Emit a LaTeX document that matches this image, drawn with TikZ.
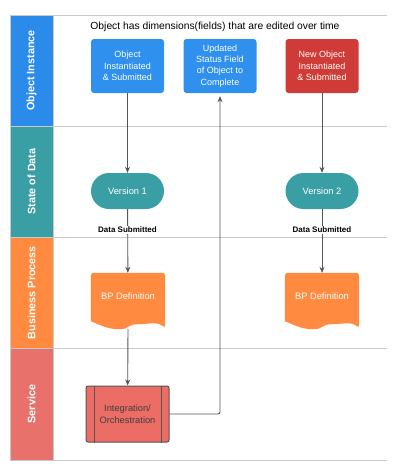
\documentclass[tikz,border=0pt]{standalone}
\usepackage{fontspec}
\setmainfont{Liberation Sans}
\usetikzlibrary{arrows.meta,calc}
\definecolor{laneblue}{HTML}{2B8BEB}
\definecolor{boxblue}{HTML}{2F90EE}
\definecolor{teal1}{HTML}{3A9EA5}
\definecolor{orange1}{HTML}{FF8A40}
\definecolor{redbox}{HTML}{CF3B36}
\definecolor{servlane}{HTML}{E8716B}
\definecolor{intfill}{HTML}{EC6C66}
\definecolor{gridgray}{HTML}{C9C9C9}
\definecolor{arrowgray}{HTML}{555555}
\tikzset{
  lanelabel/.style={rotate=90, text=white, font=\bfseries\fontsize{10.8}{12}\selectfont},
  procbox/.style={minimum width=73pt, minimum height=54pt, rounded corners=3pt, text=white, align=center, font=\fontsize{9}{11.3}\selectfont, inner sep=1pt},
  verbox/.style={fill=teal1, minimum width=73pt, minimum height=36pt, rounded corners=18pt, text=white, font=\fontsize{9.3}{11}\selectfont},
  bpnode/.style={minimum width=74pt, minimum height=56pt, inner sep=0pt},
  conn/.style={draw=arrowgray, line width=0.9pt, -{Stealth[length=6pt,width=5pt]}},
  small/.style={font=\bfseries\fontsize{8}{9}\selectfont, text=black}
}
\begin{document}
\begin{tikzpicture}[x=1pt,y=-1pt]
\useasboundingbox (0,0) rectangle (400,471);
% lane bars
\fill[laneblue] (10,15) rectangle (53,126);
\fill[teal1] (10,126) rectangle (53,237);
\fill[orange1] (10,237) rectangle (53,348);
\fill[servlane] (10,348) rectangle (53,460);
\foreach \y in {15,126,237,348,460} \draw[gridgray, line width=1pt] (10,\y) -- (387,\y);
\draw[gridgray, line width=0.8pt] (10,15) -- (10,460);
\draw[gridgray, line width=0.8pt] (53,15) -- (53,460);
\node[lanelabel] (l1) at (31.5,70.5) {Object Instance};
\node[lanelabel] (l2) at (31.5,181.5) {State of Data};
\node[lanelabel] (l3) at (31.5,292.5) {Business Process};
\node[lanelabel] (l4) at (31.5,404) {Service};
% title
\node[font=\fontsize{10.3}{12}\selectfont] (title) at (215,27) {Object has dimensions(fields) that are edited over time};
% boxes
\node[procbox, fill=boxblue] (obj) at (127.5,66) {Object\\Instantiated\\\& Submitted};
\node[procbox, fill=boxblue] (upd) at (220,66) {Updated\\Status Field\\of Object to\\Complete};
\node[procbox, fill=redbox] (new) at (322,66) {New Object\\Instantiated\\\& Submitted};
% versions
\node[verbox] (v1) at (127.5,191) {Version 1};
\node[verbox] (v2) at (322,191) {Version 2};
% BP definitions
\node[bpnode] (bp1) at (128,301) {};
\node[bpnode] (bp2) at (322,301) {};
\foreach \n in {bp1,bp2}{
  \fill[orange1, rounded corners=3pt] ($(\n.south west)+(0,-8)$) |- (\n.north east) -- ($(\n.south east)+(0,-1)$) [sharp corners]
    .. controls +(-8,-7) and +(10,0) .. ($(\n.south east)+(-27,-5)$)
    .. controls +(-12,0) and +(12,0) .. ($(\n.south west)+(28,0)$)
    .. controls +(-12,0) and +(8,3) .. ($(\n.south west)+(0,-8)$) -- cycle;
}
\node[text=white, font=\fontsize{9.3}{11}\selectfont] (bpt1) at (128,296) {BP Definition};
\node[text=white, font=\fontsize{9.3}{11}\selectfont] (bpt2) at (322,296) {BP Definition};
% integration
\node[draw=arrowgray, fill=intfill, line width=1pt, rounded corners=2pt, minimum width=83pt, minimum height=56pt, align=center, text=black!75, font=\fontsize{9.3}{11.5}\selectfont] (int) at (127.5,414) {Integration/\\Orchestration};
\draw[arrowgray, line width=0.9pt] ([xshift=9pt]int.north west) -- ([xshift=9pt]int.south west);
\draw[arrowgray, line width=0.9pt] ([xshift=-8pt]int.north east) -- ([xshift=-8pt]int.south east);
% connectors
\draw[conn] (obj) -- (v1);
\draw[conn] (new) -- (v2);
\draw[conn] (v1) -- (bp1);
\draw[conn] (v2) -- (bp2);
\draw[conn] (bp1.south) -- (int);
\draw[conn, rounded corners=2pt] (int.east) -| ([yshift=-3pt]upd.south);
% labels
\node[small, fill=white, inner sep=1pt] (ds1) at (127.5,230) {Data Submitted};
\node[small, fill=white, inner sep=1pt] (ds2) at (322,230) {Data Submitted};
\end{tikzpicture}
\end{document}
